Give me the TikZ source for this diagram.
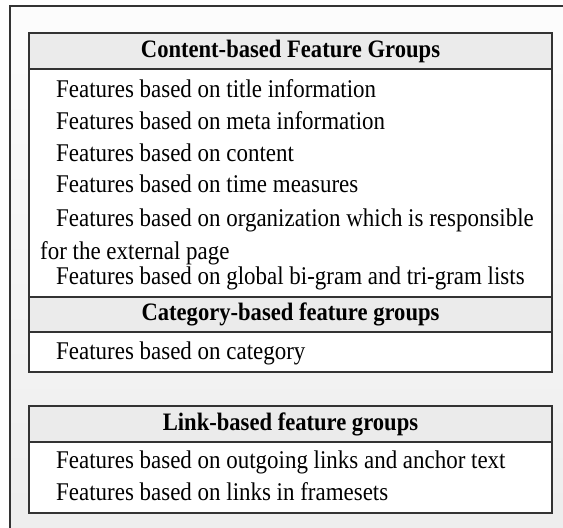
\documentclass[tikz,border=0pt]{standalone}
\usepackage{fontspec}
\setmainfont{Liberation Serif}[FakeStretch=0.9]
\usetikzlibrary{positioning}

\begin{document}
\begin{tikzpicture}[
	x=1pt, y=-1pt,
	every node/.style={inner sep=0pt, font=\fontsize{25.5}{30}\selectfont},
	frame/.style={draw=black!80, line width=1.6pt, fill=white},
	head/.style={
		draw=black!80, line width=1.6pt, fill=black!8,
		minimum width=523pt, minimum height=36pt,
		font=\fontsize{25.1}{30}\selectfont\bfseries
	},
	item/.style={anchor=base west}
]

\useasboundingbox (0,0) rectangle (563,528);
\shade[top color=black!1, bottom color=black!7] (10,6) rectangle (575,540);
\draw[line width=1.3pt, black!80] (10,540) -- (10,6) -- (575,6);

% content and category groups
\draw[frame] (29,33) rectangle (552,372);
\node[head] (content) at (290.5,51) {Content-based Feature Groups};
\node[item] (title) at (56,97) {Features based on title information};
\node[item] (meta) at (56,129) {Features based on meta information};
\node[item] (cont) at (56,161) {Features based on content};
\node[item] (time) at (56,192) {Features based on time measures};
\node[item] (org) at (56,226) {Features based on organization which is responsible};
\node[item] (org2) at (40,259) {for the external page};
\node[item] (gram) at (56,284) {Features based on global bi-gram and tri-gram lists};
\node[head, minimum height=35pt] (category) at (290.5,314.5) {Category-based feature groups};
\node[item] (cat) at (56,359) {Features based on category};

% link groups
\draw[frame] (29,406) rectangle (552,513);
\node[head] (link) at (290.5,424) {Link-based feature groups};
\node[item] (out) at (56,468) {Features based on outgoing links and anchor text};
\node[item] (frames) at (56,500) {Features based on links in framesets};

\end{tikzpicture}
\end{document}
